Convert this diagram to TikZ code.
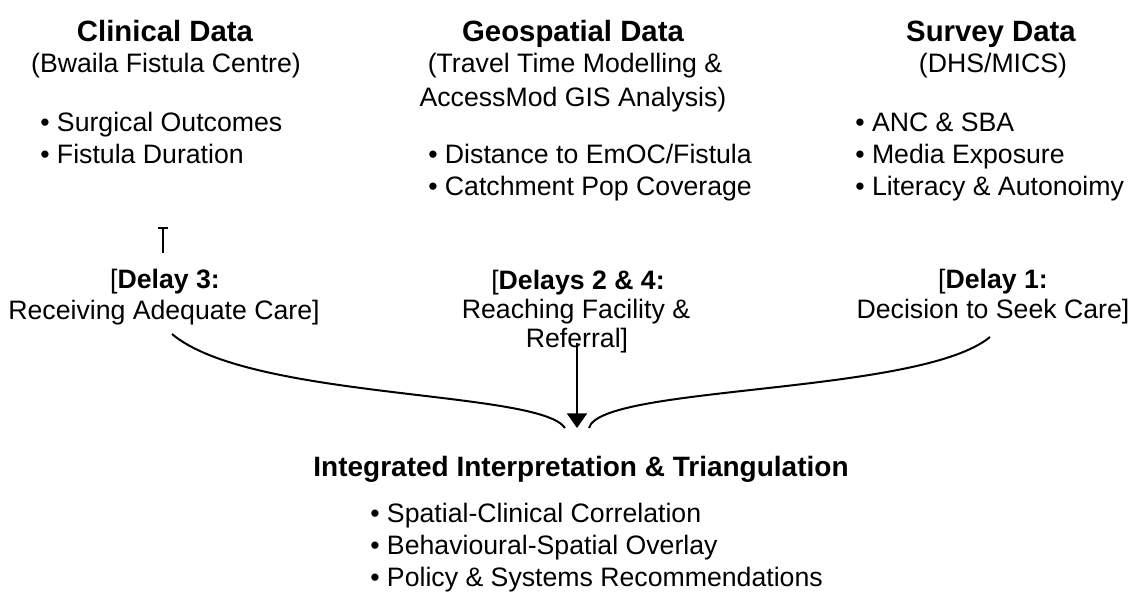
\documentclass[tikz,border=0pt]{standalone}
\usepackage{fontspec}
\setmainfont{Liberation Sans}
\usetikzlibrary{arrows.meta}
\begin{document}
\begin{tikzpicture}[x=0.75pt,y=-0.75pt,
  ttl/.style={font=\fontsize{22}{26}\selectfont\bfseries, inner sep=0pt, anchor=base},
  sub/.style={font=\fontsize{20}{24}\selectfont, inner sep=0pt, anchor=base},
  itm/.style={font=\fontsize{20}{24}\selectfont, inner sep=0pt, anchor=base west},
  btl/.style={font=\fontsize{21}{25}\selectfont\bfseries, inner sep=0pt, anchor=base},
  conn/.style={line width=1.5pt, black},
]
\useasboundingbox (0,0) rectangle (1137,592);
% Clinical
\node[ttl] (cT) at (165,42) {Clinical Data};
\node[sub] (cS) at (166,73) {(Bwaila Fistula Centre)};
\node[itm] (c1) at (40,131) {• Surgical Outcomes};
\node[itm] (c2) at (40,163) {• Fistula Duration};
% Geospatial
\node[ttl] (gT) at (573,41) {Geospatial Data};
\node[sub] (gS1) at (575,73) {(Travel Time Modelling \&};
\node[sub] (gS2) at (573,106) {AccessMod GIS Analysis)};
\node[itm] (g1) at (428,163) {• Distance to EmOC/Fistula};
\node[itm] (g2) at (428,195) {• Catchment Pop Coverage};
% Survey
\node[ttl] (sT) at (991,41) {Survey Data};
\node[sub] (sS) at (993,73) {(DHS/MICS)};
\node[itm] (s1) at (855,131) {• ANC \& SBA};
\node[itm] (s2) at (855,163) {• Media Exposure};
\node[itm] (s3) at (855,195) {• Literacy \& Autonoimy};
% tick mark
\coordinate (tkB) at (163,253);
\coordinate (tkT) at (163,227);
\draw[line width=1.2pt, -{Bar[width=7pt]}] (tkB) -- (tkT);
% Delay labels
\node[sub] (d3a) at (165,288) {[\textbf{Delay 3:}};
\node[sub] (d3b) at (164,319) {Receiving Adequate Care]};
\node[sub] (d2a) at (578,289) {[\textbf{Delays 2 \& 4:}};
\node[sub] (d2b) at (576,318) {Reaching Facility \&};
\node[sub] (d2c) at (577,347) {Referral]};
\node[sub] (d1a) at (993,288) {[\textbf{Delay 1:}};
\node[sub] (d1b) at (993,318) {Decision to Seek Care]};
% connectors
\coordinate (lS) at (172,334);
\coordinate (lE) at (565,428);
\coordinate (rS) at (990,337);
\coordinate (rE) at (589,428);
\coordinate (aS) at (577,343);
\coordinate (aE) at (577,428);
\draw[conn] (lS) .. controls (250,400) and (540,390) .. (lE);
\draw[conn] (rS) .. controls (920,395) and (600,385) .. (rE);
\draw[conn, -{Triangle[width=15pt,length=11pt]}] (aS) -- (aE);
% Integrated
\node[btl] (iT) at (581,476) {Integrated Interpretation \& Triangulation};
\node[itm] (i1) at (370,522) {• Spatial-Clinical Correlation};
\node[itm] (i2) at (370,554) {• Behavioural-Spatial Overlay};
\node[itm] (i3) at (370,586) {• Policy \& Systems Recommendations};
\end{tikzpicture}
\end{document}
